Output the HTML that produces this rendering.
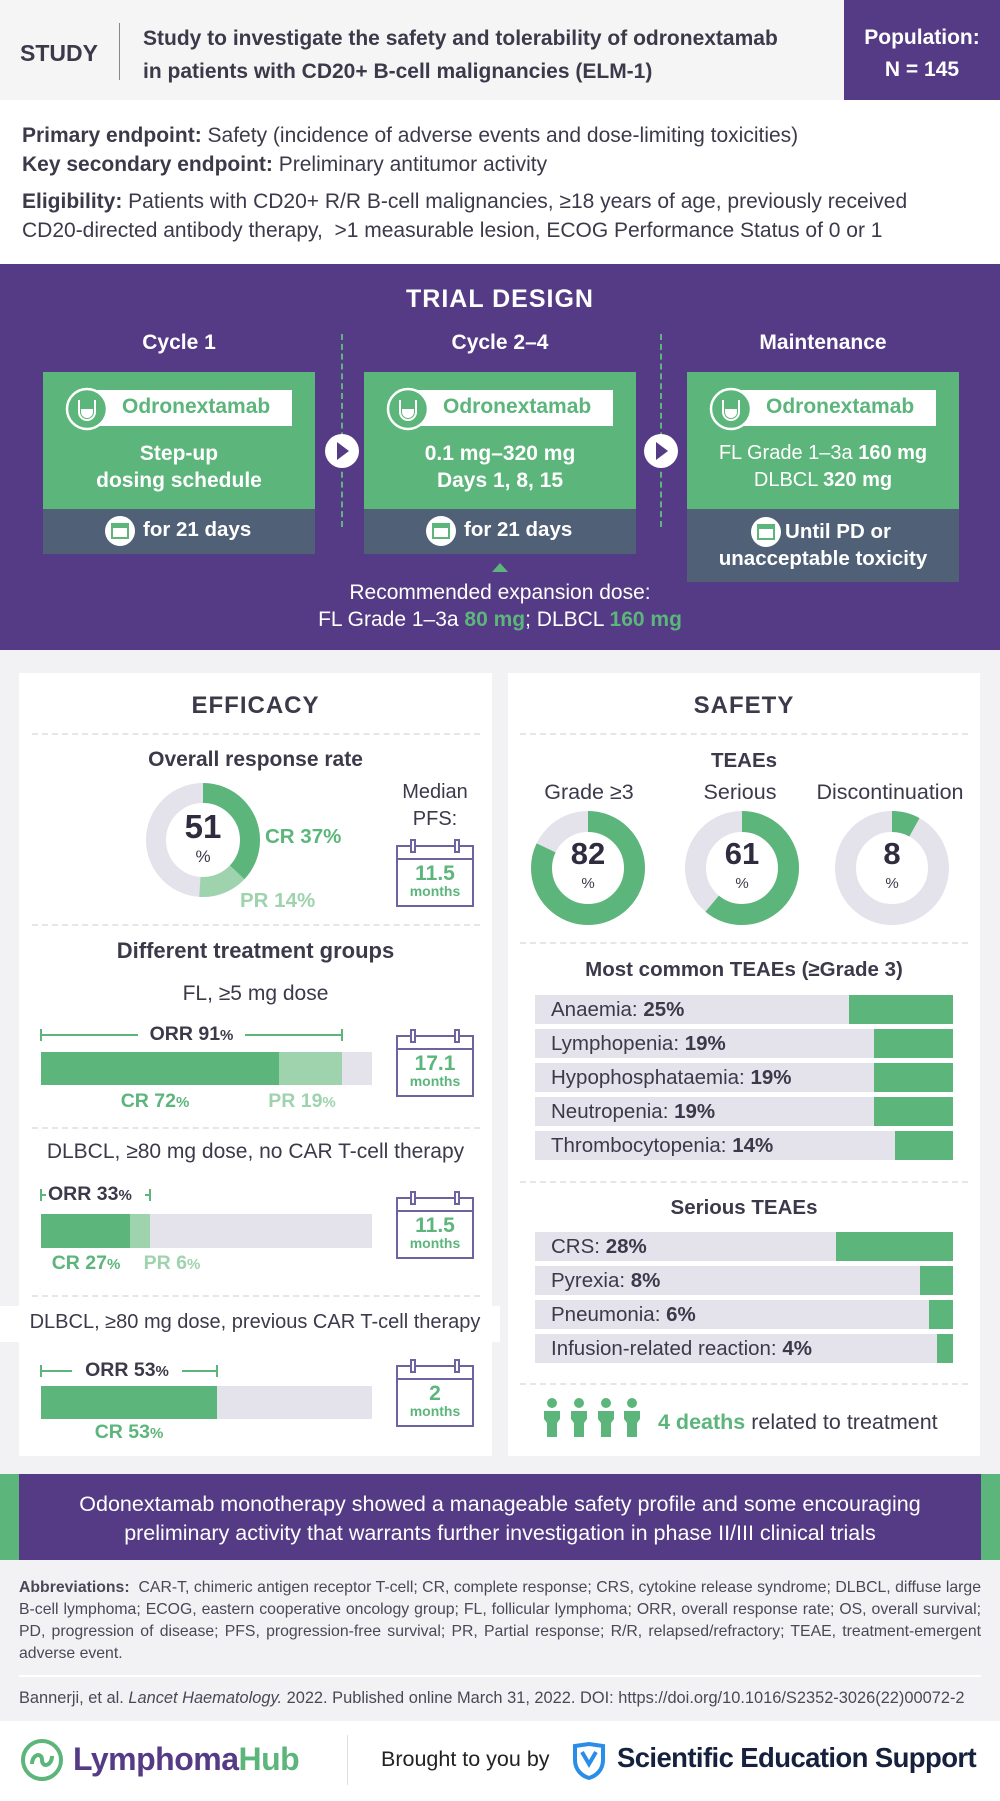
<!DOCTYPE html>
<html><head><meta charset="utf-8">
<style>
*{margin:0;padding:0;box-sizing:border-box}
body{width:1000px;height:1801px;position:relative;background:#f2f2f4;font-family:"Liberation Sans",sans-serif;color:#3c3a4a;overflow:hidden}
.a{position:absolute;white-space:nowrap}
.c{text-align:center}
.b{font-weight:bold}
.g{color:#5cb57a}
.lg{color:#9fd3ae}
.dash{position:absolute;height:0;border-top:2px dashed #e6e6ea}
.cal{position:absolute;width:78px;height:62px;border:2px solid #6e62a0;background:#fff}
.cal:before{content:"";position:absolute;left:0;right:0;top:11px;border-top:2px solid #6e62a0}
.cal i{position:absolute;top:-8px;width:6px;height:14px;border:2px solid #6e62a0;background:#fff}
.cal .n{position:absolute;left:0;right:0;top:17px;text-align:center;color:#5cb57a;font-weight:bold;font-size:21px;line-height:20px}
.cal .m{position:absolute;left:0;right:0;top:36px;text-align:center;color:#5cb57a;font-weight:bold;font-size:14px}
.row{position:absolute;left:535px;width:418px;height:29px;background:#e4e2ea;font-size:20.5px;line-height:29px;padding-left:16px;color:#3c3a4a}
.row span.gr{position:absolute;top:0;right:0;height:29px;background:#5cb57a}
</style></head><body>

<!-- header -->
<div class="a" style="left:0;top:0;width:1000px;height:100px;background:#f5f5f6"></div>
<div class="a b" style="left:20px;top:40px;font-size:23px;color:#3c3a4a">STUDY</div>
<div class="a" style="left:119px;top:23px;width:1px;height:57px;background:#888"></div>
<div class="a b" style="left:143px;top:22px;font-size:21px;line-height:33px">Study to investigate the safety and tolerability of odronextamab<br>in patients with CD20+ B-cell malignancies (ELM-1)</div>
<div class="a" style="left:844px;top:0;width:156px;height:100px;background:#553b85"></div>
<div class="a b c" style="left:844px;top:22px;width:156px;font-size:21px;line-height:32px;color:#fff">Population:<br>N = 145</div>

<!-- endpoints -->
<div class="a" style="left:0;top:100px;width:1000px;height:164px;background:#fff"></div>
<div class="a" style="left:22px;top:121px;font-size:21px;line-height:29px"><b>Primary endpoint:</b> Safety (incidence of adverse events and dose-limiting toxicities)<br><b>Key secondary endpoint:</b> Preliminary antitumor activity</div>
<div class="a" style="left:22px;top:187px;font-size:21px;line-height:29px"><b>Eligibility:</b> Patients with CD20+ R/R B-cell malignancies, ≥18 years of age, previously received<br>CD20-directed antibody therapy,&nbsp; &gt;1 measurable lesion, ECOG Performance Status of 0 or 1</div>

<!-- trial design -->
<div class="a" style="left:0;top:264px;width:1000px;height:386px;background:#553b85"></div>
<div class="a b c" style="left:0;top:285px;width:1000px;font-size:25px;color:#fff;letter-spacing:1px">TRIAL DESIGN</div>
<div class="a b c" style="left:43px;top:331px;width:272px;font-size:21px;color:#fff">Cycle 1</div>
<div class="a b c" style="left:364px;top:331px;width:272px;font-size:21px;color:#fff">Cycle 2–4</div>
<div class="a b c" style="left:687px;top:331px;width:272px;font-size:21px;color:#fff">Maintenance</div>
<div class="a" style="left:341px;top:334px;height:193px;border-left:2px dashed #5cb57a"></div>
<div class="a" style="left:660px;top:334px;height:193px;border-left:2px dashed #5cb57a"></div>

<!-- boxes -->
<div class="a" style="left:43px;top:372px;width:272px;height:137px;background:#5cb57a"></div>
<div class="a" style="left:43px;top:509px;width:272px;height:45px;background:#4f6077"></div>
<div class="a" style="left:364px;top:372px;width:272px;height:137px;background:#5cb57a"></div>
<div class="a" style="left:364px;top:509px;width:272px;height:45px;background:#4f6077"></div>
<div class="a" style="left:687px;top:372px;width:272px;height:137px;background:#5cb57a"></div>
<div class="a" style="left:687px;top:509px;width:272px;height:73px;background:#4f6077"></div>

<!-- pills -->
<svg class="a" style="left:0;top:380px" width="1000" height="60">
 <g fill="#fff">
  <rect x="97" y="10" width="195" height="36"/>
  <rect x="418" y="10" width="195" height="36"/>
  <rect x="741" y="10" width="195" height="36"/>
 </g>
 <g stroke="#fff" stroke-width="2.5" fill="#5cb57a">
  <circle cx="87" cy="29" r="20"/><circle cx="408" cy="29" r="20"/><circle cx="731" cy="29" r="20"/>
 </g>
 <g fill="#fff">
  <path d="M78 20 v12 a9 9 0 0 0 18 0 v-12 h-2 v12 a7 7 0 0 1 -14 0 v-12z M81 29 h12 v3 a6 6 0 0 1 -12 0z"/>
  <path d="M399 20 v12 a9 9 0 0 0 18 0 v-12 h-2 v12 a7 7 0 0 1 -14 0 v-12z M402 29 h12 v3 a6 6 0 0 1 -12 0z"/>
  <path d="M722 20 v12 a9 9 0 0 0 18 0 v-12 h-2 v12 a7 7 0 0 1 -14 0 v-12z M725 29 h12 v3 a6 6 0 0 1 -12 0z"/>
 </g>
</svg>
<div class="a b g" style="left:122px;top:395px;font-size:21px">Odronextamab</div>
<div class="a b g" style="left:443px;top:395px;font-size:21px">Odronextamab</div>
<div class="a b g" style="left:766px;top:395px;font-size:21px">Odronextamab</div>

<div class="a b c" style="left:43px;top:440px;width:272px;font-size:21px;line-height:27px;color:#fff">Step-up<br>dosing schedule</div>
<div class="a b c" style="left:364px;top:440px;width:272px;font-size:21px;line-height:27px;color:#fff">0.1 mg–320 mg<br>Days 1, 8, 15</div>
<div class="a c" style="left:687px;top:440px;width:272px;font-size:20px;line-height:27px;color:#fff">FL Grade 1–3a <b>160 mg</b><br>DLBCL <b>320 mg</b></div>

<!-- calendar circles -->
<svg class="a" style="left:0;top:500px" width="1000" height="70">
 <g fill="#fff">
  <circle cx="120" cy="31" r="15"/><circle cx="441" cy="31" r="15"/><circle cx="766" cy="32" r="15"/>
 </g>
 <g fill="none" stroke="#5cb57a" stroke-width="2">
  <rect x="112" y="24" width="16" height="14"/><rect x="433" y="24" width="16" height="14"/><rect x="758" y="25" width="16" height="14"/>
 </g>
 <g fill="#5cb57a"><rect x="112" y="24" width="16" height="4"/><rect x="433" y="24" width="16" height="4"/><rect x="758" y="25" width="16" height="4"/></g>
</svg>
<div class="a b" style="left:143px;top:518px;font-size:20.5px;color:#fff">for 21 days</div>
<div class="a b" style="left:464px;top:518px;font-size:20.5px;color:#fff">for 21 days</div>
<div class="a b c" style="left:687px;top:518px;width:292px;font-size:20.5px;line-height:27px;color:#fff"><span style="padding-left:10px">Until PD or</span><br><span style="margin-left:-20px">unacceptable toxicity</span></div>

<!-- arrows -->
<svg class="a" style="left:0;top:430px" width="1000" height="44">
 <circle cx="342" cy="21" r="17" fill="#fff"/><path d="M337 12 l12 9 l-12 9z" fill="#553b85"/>
 <circle cx="661" cy="21" r="17" fill="#fff"/><path d="M656 12 l12 9 l-12 9z" fill="#553b85"/>
</svg>
<svg class="a" style="left:490px;top:562px" width="20" height="12"><path d="M10 1 L18 10 H2z" fill="#5cb57a"/></svg>
<div class="a c" style="left:150px;top:579px;width:700px;font-size:21px;line-height:27px;color:#fff">Recommended expansion dose:<br>FL Grade 1–3a <b class="g">80 mg</b>; DLBCL <b class="g">160 mg</b></div>

<!-- panels -->
<div class="a" style="left:19px;top:673px;width:473px;height:783px;background:#fff"></div>
<div class="a" style="left:508px;top:673px;width:472px;height:783px;background:#fff"></div>
<div class="a b c" style="left:19px;top:692px;width:473px;font-size:24px;letter-spacing:1px">EFFICACY</div>
<div class="a b c" style="left:508px;top:692px;width:472px;font-size:24px;letter-spacing:1px">SAFETY</div>
<div class="dash" style="left:32px;width:448px;top:733px"></div>
<div class="dash" style="left:520px;width:448px;top:733px"></div>

<!-- ORR -->
<div class="a b c" style="left:19px;top:748px;width:473px;font-size:21px">Overall response rate</div>
<svg class="a" style="left:140px;top:777px" width="126" height="126">
 <g transform="translate(63,63) rotate(-90)" fill="none" stroke-width="20">
  <circle r="47" stroke="#e4e2ea"/>
  <circle r="47" stroke="#5cb57a" stroke-dasharray="109.3 400"/>
  <circle r="47" stroke="#9fd3ae" stroke-dasharray="0 109.3 41.3 400"/>
 </g>
</svg>
<div class="a b c" style="left:163px;top:808px;width:80px;font-size:33px;color:#2f2c40">51</div>
<div class="a c" style="left:163px;top:847px;width:80px;font-size:17px">%</div>
<div class="a b g" style="left:265px;top:825px;font-size:20.5px">CR 37%</div>
<div class="a b lg" style="left:240px;top:889px;font-size:20.5px">PR 14%</div>
<div class="a c" style="left:385px;top:779px;width:100px;font-size:20px;line-height:27px">Median<br>PFS:</div>
<div class="cal" style="left:396px;top:845px"><i style="left:12px"></i><i style="left:56px"></i><div class="n">11.5</div><div class="m">months</div></div>

<div class="dash" style="left:32px;width:448px;top:924px"></div>
<div class="a b c" style="left:19px;top:938px;width:473px;font-size:22px">Different treatment groups</div>
<div class="a c" style="left:19px;top:982px;width:473px;font-size:21px">FL, ≥5 mg dose</div>

<svg class="a" style="left:0;top:1020px" width="492" height="100">
 <g stroke="#5cb57a" stroke-width="2">
  <line x1="41" y1="15" x2="138" y2="15"/><line x1="245" y1="15" x2="342" y2="15"/>
  <line x1="41" y1="9" x2="41" y2="21"/><line x1="342" y1="9" x2="342" y2="21"/>
 </g>
 <rect x="41" y="32" width="331" height="33" fill="#e4e2ea"/>
 <rect x="41" y="32" width="238" height="33" fill="#5cb57a"/>
 <rect x="279" y="32" width="63" height="33" fill="#9fd3ae"/>
</svg>
<div class="a b c" style="left:138px;top:1023px;width:107px;font-size:19.5px">ORR 91<span style="font-size:15px">%</span></div>
<div class="a b g c" style="left:105px;top:1090px;width:100px;font-size:19.5px">CR 72<span style="font-size:15px">%</span></div>
<div class="a b lg c" style="left:252px;top:1090px;width:100px;font-size:19.5px">PR 19<span style="font-size:15px">%</span></div>
<div class="cal" style="left:396px;top:1035px"><i style="left:12px"></i><i style="left:56px"></i><div class="n">17.1</div><div class="m">months</div></div>

<div class="dash" style="left:32px;width:448px;top:1127px"></div>
<div class="a c" style="left:19px;top:1140px;width:473px;font-size:21px">DLBCL, ≥80 mg dose, no CAR T-cell therapy</div>
<svg class="a" style="left:0;top:1180px" width="492" height="80">
 <g stroke="#5cb57a" stroke-width="2">
  <line x1="41" y1="15" x2="46" y2="15"/><line x1="41" y1="9" x2="41" y2="21"/>
  <line x1="145" y1="15" x2="150" y2="15"/><line x1="150" y1="9" x2="150" y2="21"/>
 </g>
 <rect x="41" y="34" width="331" height="34" fill="#e4e2ea"/>
 <rect x="41" y="34" width="89" height="34" fill="#5cb57a"/>
 <rect x="130" y="34" width="20" height="34" fill="#9fd3ae"/>
</svg>
<div class="a b" style="left:48px;top:1183px;font-size:19.5px">ORR 33<span style="font-size:15px">%</span></div>
<div class="a b g c" style="left:36px;top:1252px;width:100px;font-size:19.5px">CR 27<span style="font-size:15px">%</span></div>
<div class="a b lg c" style="left:122px;top:1252px;width:100px;font-size:19.5px">PR 6<span style="font-size:15px">%</span></div>
<div class="cal" style="left:396px;top:1197px"><i style="left:12px"></i><i style="left:56px"></i><div class="n">11.5</div><div class="m">months</div></div>

<div class="dash" style="left:32px;width:448px;top:1295px"></div>
<div class="a" style="left:0;top:1306px;width:500px;height:36px;background:#fff"></div>
<div class="a c" style="left:5px;top:1311px;width:500px;font-size:20px">DLBCL, ≥80 mg dose, previous CAR T-cell therapy</div>
<svg class="a" style="left:0;top:1356px" width="492" height="80">
 <g stroke="#5cb57a" stroke-width="2">
  <line x1="41" y1="15" x2="72" y2="15"/><line x1="41" y1="9" x2="41" y2="21"/>
  <line x1="182" y1="15" x2="217" y2="15"/><line x1="217" y1="9" x2="217" y2="21"/>
 </g>
 <rect x="41" y="30" width="331" height="33" fill="#e4e2ea"/>
 <rect x="41" y="30" width="176" height="33" fill="#5cb57a"/>
</svg>
<div class="a b c" style="left:72px;top:1359px;width:110px;font-size:19.5px">ORR 53<span style="font-size:15px">%</span></div>
<div class="a b g c" style="left:79px;top:1421px;width:100px;font-size:19.5px">CR 53<span style="font-size:15px">%</span></div>
<div class="cal" style="left:396px;top:1365px"><i style="left:12px"></i><i style="left:56px"></i><div class="n">2</div><div class="m">months</div></div>

<!-- safety -->
<div class="a b c" style="left:508px;top:749px;width:472px;font-size:20.5px">TEAEs</div>
<div class="a c" style="left:514px;top:780px;width:150px;font-size:21.5px">Grade ≥3</div>
<div class="a c" style="left:670px;top:780px;width:140px;font-size:21.5px">Serious</div>
<div class="a c" style="left:800px;top:780px;width:180px;font-size:21.5px">Discontinuation</div>
<svg class="a" style="left:500px;top:780px" width="480" height="180">
 <g fill="none" stroke-width="21">
  <g transform="translate(88,88) rotate(-90)"><circle r="46.5" stroke="#e4e2ea"/><circle r="46.5" stroke="#5cb57a" stroke-dasharray="239.6 400"/></g>
  <g transform="translate(242,88) rotate(-90)"><circle r="46.5" stroke="#e4e2ea"/><circle r="46.5" stroke="#5cb57a" stroke-dasharray="178.2 400"/></g>
  <g transform="translate(392,88) rotate(-90)"><circle r="46.5" stroke="#e4e2ea"/><circle r="46.5" stroke="#5cb57a" stroke-dasharray="23.4 400"/></g>
 </g>
</svg>
<div class="a b c" style="left:548px;top:836px;width:80px;font-size:31px;color:#2f2c40">82</div>
<div class="a c" style="left:548px;top:875px;width:80px;font-size:15px">%</div>
<div class="a b c" style="left:702px;top:836px;width:80px;font-size:31px;color:#2f2c40">61</div>
<div class="a c" style="left:702px;top:875px;width:80px;font-size:15px">%</div>
<div class="a b c" style="left:852px;top:836px;width:80px;font-size:31px;color:#2f2c40">8</div>
<div class="a c" style="left:852px;top:875px;width:80px;font-size:15px">%</div>

<div class="dash" style="left:520px;width:448px;top:942px"></div>
<div class="a b c" style="left:508px;top:958px;width:472px;font-size:20.5px">Most common TEAEs (≥Grade 3)</div>
<div class="row" style="top:995px">Anaemia: <b>25%</b><span class="gr" style="width:104px"></span></div>
<div class="row" style="top:1029px">Lymphopenia: <b>19%</b><span class="gr" style="width:79px"></span></div>
<div class="row" style="top:1063px">Hypophosphataemia: <b>19%</b><span class="gr" style="width:79px"></span></div>
<div class="row" style="top:1097px">Neutropenia: <b>19%</b><span class="gr" style="width:79px"></span></div>
<div class="row" style="top:1131px">Thrombocytopenia: <b>14%</b><span class="gr" style="width:58px"></span></div>

<div class="dash" style="left:520px;width:448px;top:1181px"></div>
<div class="a b c" style="left:508px;top:1196px;width:472px;font-size:20.5px">Serious TEAEs</div>
<div class="row" style="top:1232px">CRS: <b>28%</b><span class="gr" style="width:117px"></span></div>
<div class="row" style="top:1266px">Pyrexia: <b>8%</b><span class="gr" style="width:33px"></span></div>
<div class="row" style="top:1300px">Pneumonia: <b>6%</b><span class="gr" style="width:24px"></span></div>
<div class="row" style="top:1334px">Infusion-related reaction: <b>4%</b><span class="gr" style="width:16px"></span></div>

<div class="dash" style="left:520px;width:448px;top:1383px"></div>
<svg class="a" style="left:540px;top:1395px" width="110" height="50">
 <g fill="#5cb57a">
  <circle cx="12" cy="8" r="5"/><path d="M4 16 h16 v8 l-3 4 v14 h-10 v-14 l-3 -4z"/>
  <circle cx="39" cy="8" r="5"/><path d="M31 16 h16 v8 l-3 4 v14 h-10 v-14 l-3 -4z"/>
  <circle cx="66" cy="8" r="5"/><path d="M58 16 h16 v8 l-3 4 v14 h-10 v-14 l-3 -4z"/>
  <circle cx="92" cy="8" r="5"/><path d="M84 16 h16 v8 l-3 4 v14 h-10 v-14 l-3 -4z"/>
 </g>
</svg>
<div class="a" style="left:658px;top:1410px;font-size:21.5px"><b class="g">4 deaths</b> related to treatment</div>

<!-- conclusion -->
<div class="a" style="left:0;top:1474px;width:1000px;height:86px;background:#5cb57a"></div>
<div class="a" style="left:19px;top:1474px;width:962px;height:86px;background:#553b85"></div>
<div class="a c" style="left:19px;top:1490px;width:962px;font-size:21.5px;line-height:29px;color:#fff">Odonextamab monotherapy showed a manageable safety profile and some encouraging<br>preliminary activity that warrants further investigation in phase II/III clinical trials</div>

<div class="a" style="left:19px;top:1577px;width:962px;font-size:15.8px;line-height:22px;white-space:normal;text-align:justify;color:#4a4858"><b>Abbreviations:</b>&nbsp; CAR-T, chimeric antigen receptor T-cell; CR, complete response; CRS, cytokine release syndrome; DLBCL, diffuse large B-cell lymphoma; ECOG, eastern cooperative oncology group; FL, follicular lymphoma; ORR, overall response rate; OS, overall survival; PD, progression of disease; PFS, progression-free survival; PR, Partial response; R/R, relapsed/refractory; TEAE, treatment-emergent adverse event.</div>
<div class="a" style="left:19px;top:1675px;width:962px;height:2px;background:#fff"></div>
<div class="a" style="left:19px;top:1689px;font-size:16.4px;color:#4a4858">Bannerji, et al. <i>Lancet Haematology.</i> 2022. Published online March 31, 2022. DOI: https://doi.org/10.1016/S2352-3026(22)00072-2</div>

<!-- footer -->
<div class="a" style="left:0;top:1721px;width:1000px;height:80px;background:#fff"></div>
<svg class="a" style="left:20px;top:1738px" width="46" height="46">
 <circle cx="22" cy="22" r="19" fill="none" stroke="#5cb57a" stroke-width="4"/>
 <path d="M12 26 c0 -10 10 -12 10 -4 s10 6 10 -4" fill="none" stroke="#5cb57a" stroke-width="4"/>
</svg>
<div class="a b" style="left:73px;top:1741px;font-size:32px;color:#553b85;letter-spacing:-0.5px">Lymphoma<span class="g">Hub</span></div>
<div class="a" style="left:347px;top:1735px;width:1px;height:50px;background:#ddd"></div>
<div class="a" style="left:381px;top:1747px;font-size:21.5px;color:#222">Brought to you by</div>
<svg class="a" style="left:572px;top:1742px" width="34" height="38">
 <path d="M3 4 L17 2 L31 4 L31 18 C31 28 24 34 17 36 C10 34 3 28 3 18 Z" fill="none" stroke="#2a8ee8" stroke-width="4"/>
 <path d="M10 10 L17 22 L24 10" fill="none" stroke="#2a8ee8" stroke-width="4"/>
</svg>
<div class="a b" style="left:617px;top:1742px;font-size:27.5px;color:#16213e;letter-spacing:-0.6px">Scientific Education Support</div>
</body></html>
